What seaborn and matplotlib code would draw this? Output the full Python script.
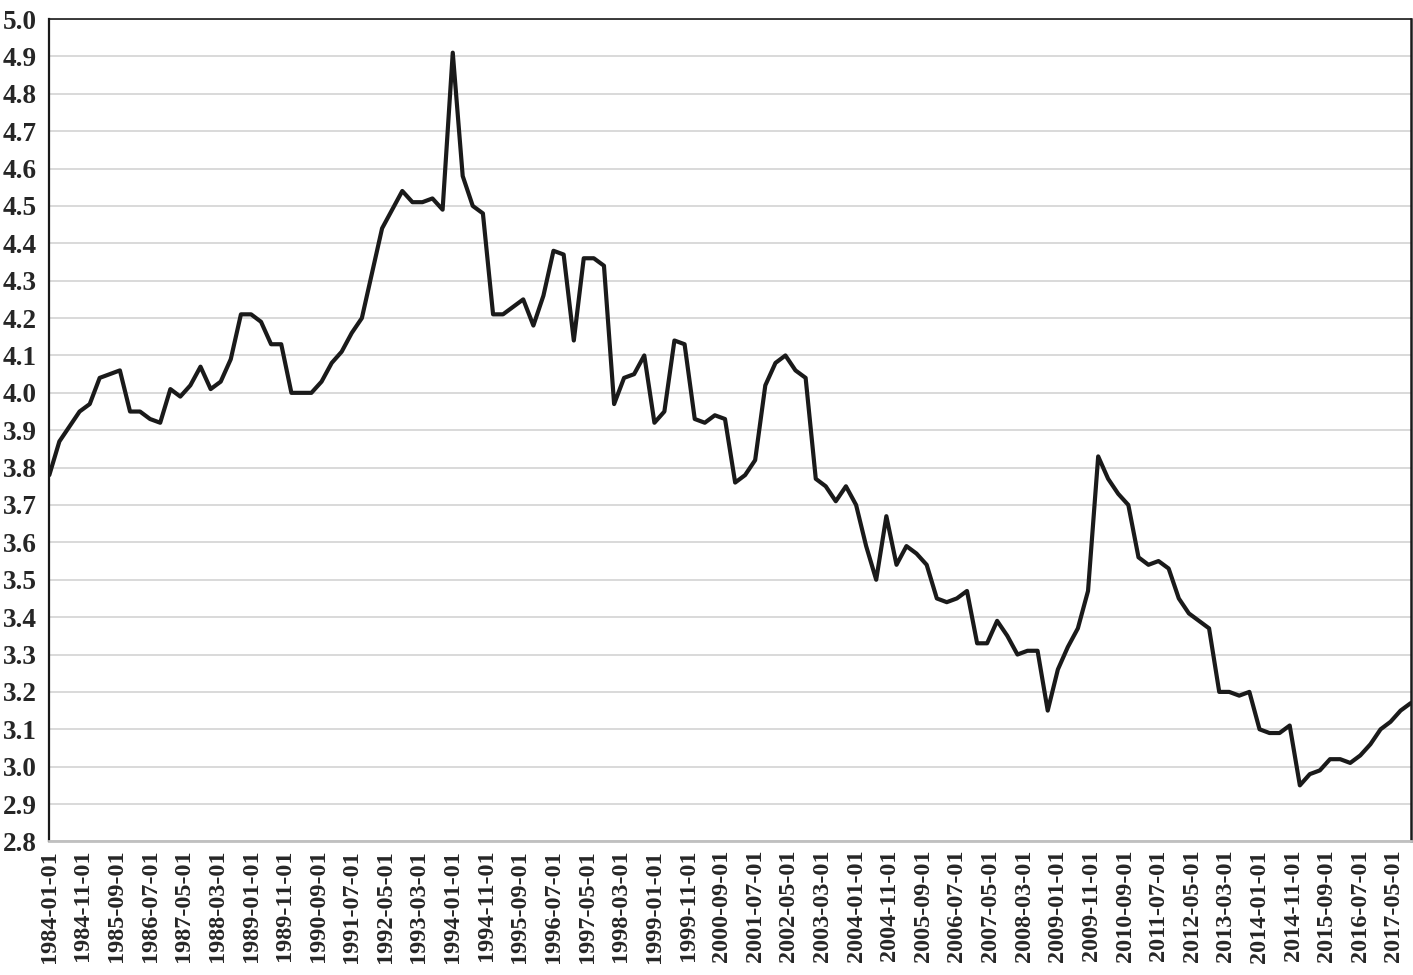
import numpy as np
import pandas as pd
import matplotlib.pyplot as plt
import seaborn as sns

# quarterly observations, 1984-01-01 .. 2017-10-01
quarters = pd.date_range('1984-01-01', '2017-10-01', freq='QS')
values = [
    3.78, 3.87, 3.91, 3.95, 3.97, 4.04, 4.05, 4.06, 3.95, 3.95,
    3.93, 3.92, 4.01, 3.99, 4.02, 4.07, 4.01, 4.03, 4.09, 4.21,
    4.21, 4.19, 4.13, 4.13, 4.00, 4.00, 4.00, 4.03, 4.08, 4.11,
    4.16, 4.20, 4.32, 4.44, 4.49, 4.54, 4.51, 4.51, 4.52, 4.49,
    4.91, 4.58, 4.50, 4.48, 4.21, 4.21, 4.23, 4.25, 4.18, 4.26,
    4.38, 4.37, 4.14, 4.36, 4.36, 4.34, 3.97, 4.04, 4.05, 4.10,
    3.92, 3.95, 4.14, 4.13, 3.93, 3.92, 3.94, 3.93, 3.76, 3.78,
    3.82, 4.02, 4.08, 4.10, 4.06, 4.04, 3.77, 3.75, 3.71, 3.75,
    3.70, 3.59, 3.50, 3.67, 3.54, 3.59, 3.57, 3.54, 3.45, 3.44,
    3.45, 3.47, 3.33, 3.33, 3.39, 3.35, 3.30, 3.31, 3.31, 3.15,
    3.26, 3.32, 3.37, 3.47, 3.83, 3.77, 3.73, 3.70, 3.56, 3.54,
    3.55, 3.53, 3.45, 3.41, 3.39, 3.37, 3.20, 3.20, 3.19, 3.20,
    3.10, 3.09, 3.09, 3.11, 2.95, 2.98, 2.99, 3.02, 3.02, 3.01,
    3.03, 3.06, 3.10, 3.12, 3.15, 3.17,
]

# axis labels: every 10 months, one decimal on y
tick_dates = pd.date_range('1984-01-01', '2017-05-01', freq='10MS')
y_ticks = np.round(np.arange(2.8, 5.001, 0.1), 1)


def main():
    sns.set_style('white')
    plt.rcParams['font.family'] = ['Liberation Serif', 'DejaVu Serif']
    plt.rcParams['font.weight'] = 'bold'

    fig, ax = plt.subplots(figsize=(14.13, 9.75), dpi=100)
    fig.subplots_adjust(left=0.0349, right=0.9984, top=0.9805, bottom=0.137)

    df = pd.DataFrame({'date': quarters, 'value': values})
    sns.lineplot(data=df, x='date', y='value', color='#1a1a1a',
                 linewidth=3.0, ax=ax)

    ax.set_xlim(quarters[0], quarters[-1])
    ax.set_ylim(2.8, 5.0)
    ax.set_yticks(y_ticks)
    ax.set_yticklabels([f'{v:.1f}' for v in y_ticks])
    ax.set_xticks(tick_dates)
    ax.set_xticklabels([d.strftime('%Y-%m-%d') for d in tick_dates])

    ax.yaxis.grid(True, color='#d0d0d0', linewidth=1.1)
    ax.set_axisbelow(True)
    ax.tick_params(axis='x', rotation=90, length=4, width=1.5,
                   color='#c0c0c0', labelsize=17.5, pad=2)
    ax.tick_params(axis='y', length=0, labelsize=19.5, pad=9)
    ax.set_xlabel('')
    ax.set_ylabel('')

    for side in ['left', 'top', 'right']:
        ax.spines[side].set_color('#1a1a1a')
    ax.spines['left'].set_linewidth(1.6)
    ax.spines['top'].set_linewidth(1.2)
    ax.spines['right'].set_linewidth(1.8)
    ax.spines['bottom'].set_color('#c0c0c0')
    ax.spines['bottom'].set_linewidth(2)

    fig.savefig('out.png', dpi=100)


if __name__ == "__main__":
    main()
